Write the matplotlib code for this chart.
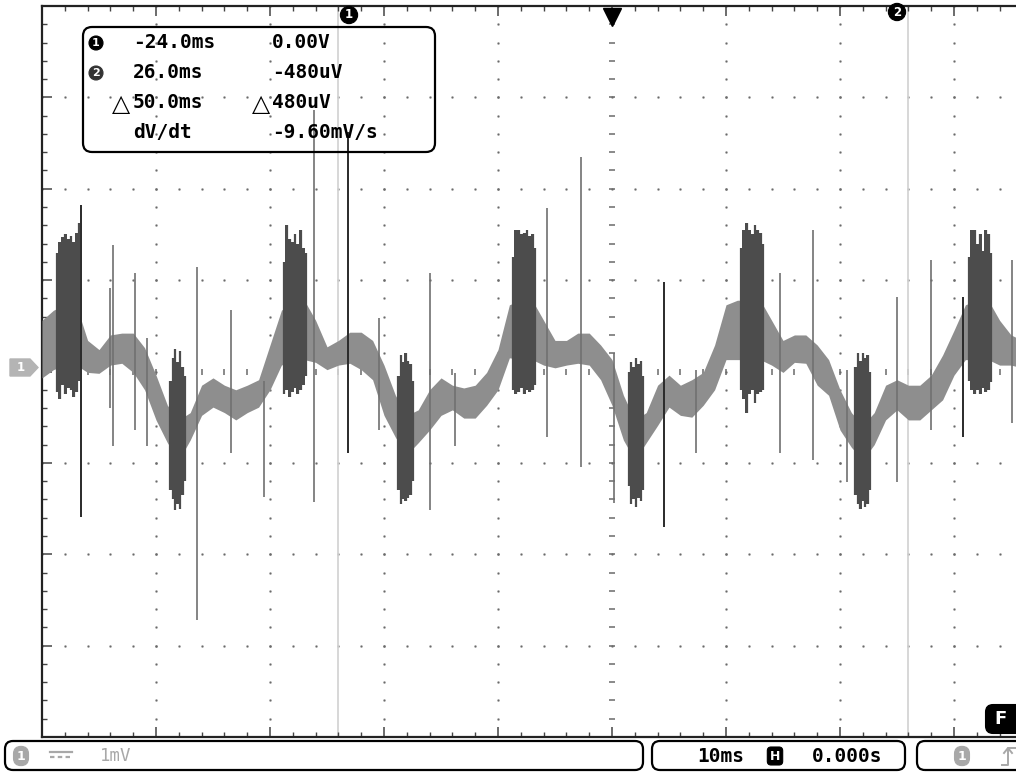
import numpy as np
import matplotlib
matplotlib.use("Agg")
import matplotlib.pyplot as plt
from matplotlib.patches import FancyBboxPatch, Polygon
from matplotlib.lines import Line2D
from matplotlib.transforms import IdentityTransform

# ---------------- data (time in ms, voltage in mV) ----------------
t_ms = list(range(-50, 37))
band_hi = [0.56, 0.67, 0.73, 0.73, 0.34, 0.24, 0.40, 0.42, 0.42, 0.26,
           -0.04, -0.37, -0.53, -0.45, -0.15, -0.07, -0.15, -0.20, -0.15, -0.09,
           0.29, 0.67, 0.78, 0.78, 0.56, 0.27, 0.34, 0.43, 0.43, 0.34,
           0.07, -0.26, -0.48, -0.42, -0.20, -0.07, -0.15, -0.18, -0.15, -0.01,
           0.24, 0.73, 0.78, 0.78, 0.56, 0.34, 0.34, 0.42, 0.42, 0.29,
           0.13, -0.26, -0.53, -0.45, -0.15, -0.04, -0.15, -0.09, -0.01, 0.29,
           0.73, 0.78, 0.78, 0.78, 0.56, 0.34, 0.40, 0.40, 0.29, 0.13,
           -0.20, -0.45, -0.59, -0.45, -0.15, -0.09, -0.15, -0.15, -0.04, 0.18,
           0.45, 0.73, 0.78, 0.78, 0.56, 0.40, 0.34]
band_lo = [-0.07, 0.02, 0.07, 0.07, -0.01, -0.02, 0.07, 0.09, -0.01, -0.20,
           -0.53, -0.78, -0.97, -0.75, -0.48, -0.39, -0.45, -0.53, -0.45, -0.39,
           -0.20, 0.07, 0.13, 0.13, 0.10, 0.02, 0.07, 0.09, 0.02, -0.09,
           -0.48, -0.72, -0.91, -0.78, -0.64, -0.48, -0.42, -0.51, -0.51, -0.37,
           -0.20, 0.15, 0.13, 0.13, 0.07, 0.04, 0.07, 0.09, 0.07, -0.09,
           -0.37, -0.75, -0.97, -0.78, -0.59, -0.39, -0.48, -0.50, -0.37, -0.20,
           0.13, 0.13, 0.13, 0.13, 0.07, -0.01, 0.10, 0.09, -0.15, -0.26,
           -0.64, -0.83, -0.97, -0.80, -0.53, -0.42, -0.53, -0.53, -0.42, -0.31,
           -0.04, 0.13, 0.13, 0.13, 0.07, 0.07, 0.04]

# positive bursts: centre time, column tops, column bottoms
up_burst_t = [-47.7, -27.8, -7.7, 12.3, 32.3]
up_burst_top = [[1.30, 1.42, 1.47, 1.50, 1.45, 1.48, 1.42, 1.52, 1.62],
                [1.20, 1.60, 1.45, 1.42, 1.50, 1.40, 1.55, 1.35, 1.30],
                [1.25, 1.55, 1.55, 1.50, 1.52, 1.55, 1.48, 1.50, 1.35],
                [1.35, 1.55, 1.62, 1.55, 1.50, 1.60, 1.55, 1.52, 1.40],
                [1.25, 1.55, 1.55, 1.40, 1.50, 1.32, 1.55, 1.50, 1.30]]
up_burst_bot = [[-0.22, -0.30, -0.15, -0.25, -0.18, -0.20, -0.28, -0.22, -0.10],
                [-0.25, -0.20, -0.28, -0.22, -0.18, -0.25, -0.20, -0.15, -0.05],
                [-0.20, -0.25, -0.22, -0.18, -0.25, -0.20, -0.22, -0.20, -0.15],
                [-0.20, -0.30, -0.45, -0.25, -0.20, -0.35, -0.25, -0.22, -0.20],
                [-0.10, -0.20, -0.25, -0.20, -0.25, -0.18, -0.22, -0.20, -0.12]]
# negative bursts
dn_burst_t = [-38.1, -18.1, 2.1, 22.0]
dn_burst_top = [[-0.10, 0.15, 0.25, 0.10, 0.22, 0.05, -0.05],
                [-0.05, 0.18, 0.10, 0.20, 0.12, 0.08, -0.10],
                [0.00, 0.10, 0.05, 0.15, 0.08, 0.12, -0.05],
                [0.05, 0.20, 0.12, 0.20, 0.15, 0.18, 0.00]]
dn_burst_bot = [[-1.30, -1.40, -1.52, -1.45, -1.50, -1.35, -1.20],
                [-1.30, -1.45, -1.40, -1.42, -1.38, -1.35, -1.20],
                [-1.25, -1.45, -1.40, -1.48, -1.38, -1.42, -1.30],
                [-1.35, -1.45, -1.50, -1.42, -1.48, -1.45, -1.30]]

# isolated spikes
spike_t = [-44.0, -43.8, -41.8, -40.8, -36.4, -33.4, -30.5, -26.1, -20.4, -16.0,
           -13.8, -5.7, -2.7, 0.2, 7.4, 14.7, 17.6, 20.6, 25.0, 28.0, 35.1]
spike_hi = [0.91, 1.38, 1.08, 0.37, 1.14, 0.67, -0.10, 2.86, 0.59, 1.08,
            -0.02, 1.79, 2.35, 0.20, 0.02, 1.08, 1.55, 0.02, 0.82, 1.22, 1.22]
spike_lo = [-0.40, -0.81, -0.64, -0.81, -2.72, -0.89, -1.37, -1.43, -0.64, -1.52,
            -0.81, -0.72, -1.04, -1.44, -0.89, -0.89, -0.97, -1.21, -1.21, -0.64, -0.56]
dark_spike_t = [-46.6, -23.2, 4.6, 30.8]
dark_spike_hi = [1.82, 2.62, 0.98, 0.82]
dark_spike_lo = [-1.59, -0.89, -1.70, -0.72]

cursor_t = [-24.0, 26.0]
readout_rows = [("-24.0ms", "0.00V"), ("26.0ms", "-480uV"),
                ("50.0ms", "480uV"), ("dV/dt", "-9.60mV/s")]
timebase_label = "10ms"
delay_label = "0.000s"
volts_label = "1mV"

# ---------------- figure ----------------
W, H = 1016, 773
fig = plt.figure(figsize=(W / 100, H / 100), dpi=100)
fig.patch.set_facecolor("white")
PX = IdentityTransform()


def fy(y):
    return H - y


# axes: 10 divisions x 114 px, 8 divisions x 91.4 px; right part off-screen
ax = fig.add_axes([42 / W, (H - 737) / H, 1140 / W, 731 / H])
ax.set_xlim(-50, 50)
ax.set_ylim(-4, 4)
ax.set_facecolor("white")
for s in ["left", "top", "bottom"]:
    ax.spines[s].set_linewidth(1.6)
    ax.spines[s].set_color("#222222")
ax.spines["right"].set_visible(False)
ax.set_xticks(np.arange(-50, 51, 10))
ax.set_xticks(np.arange(-50, 51, 2), minor=True)
ax.set_yticks(np.arange(-4, 4.01, 1))
ax.set_yticks(np.arange(-4, 4.01, 0.2), minor=True)
ax.tick_params(which="both", direction="in", top=True, bottom=True, left=True,
               right=False, labelbottom=False, labelleft=False, color="#444444")
ax.tick_params(which="major", length=7, width=1.1)
ax.tick_params(which="minor", length=3.5, width=1.0)

# grid dots
dot_c = "#6a6a6a"
ys = np.arange(-4, 4.01, 0.2)
xs = np.arange(-50, 50.01, 2)
for gx in [-40, -30, -20, -10, 10, 20, 30, 40]:
    ax.plot(np.full_like(ys, gx), ys, ls="none", marker="s", ms=1.0, mew=0.4,
            color=dot_c, zorder=1)
for gy in [-3, -2, -1, 1, 2, 3]:
    ax.plot(xs, np.full_like(xs, gy), ls="none", marker="s", ms=1.0, mew=0.4,
            color=dot_c, zorder=1)
ax.plot(np.zeros_like(ys), ys, ls="none", marker="_", ms=4.5, mew=1.1, color=dot_c, zorder=1)
ax.plot(xs, np.zeros_like(xs), ls="none", marker="|", ms=4.5, mew=1.1, color=dot_c, zorder=1)

# cursors
for ct in cursor_t:
    ax.axvline(ct, color="#d4d4d4", lw=1.3, zorder=1.5)

# waveform band
ax.fill_between(t_ms, band_lo, band_hi, color="#8e8e8e", lw=0, zorder=3)

# bursts (solid stepped blocks with jagged column edges)
burst_c = "#4c4c4c"
up_w = 2.2
for c, tops, bots in zip(up_burst_t, up_burst_top, up_burst_bot):
    n = len(tops)
    cx = c + (np.arange(n) - (n - 1) / 2) * up_w / n
    ax.fill_between(cx, bots, tops, step="mid", color=burst_c, lw=0, zorder=4)
    ax.vlines(cx, bots, tops, colors=burst_c, lw=1.6, zorder=4)
dn_w = 1.5
for c, tops, bots in zip(dn_burst_t, dn_burst_top, dn_burst_bot):
    n = len(tops)
    cx = c + (np.arange(n) - (n - 1) / 2) * dn_w / n
    ax.fill_between(cx, bots, tops, step="mid", color=burst_c, lw=0, zorder=4)
    ax.vlines(cx, bots, tops, colors=burst_c, lw=1.6, zorder=4)

# spikes
ax.vlines(spike_t, spike_lo, spike_hi, colors="#707070", lw=1.2, zorder=5)
ax.vlines(dark_spike_t, dark_spike_lo, dark_spike_hi, colors="#2a2a2a", lw=1.4, zorder=5)

# trigger position marker
ax.plot([0], [3.88], marker="v", ms=13, color="black", zorder=6, clip_on=False)

# ---------------- overlays (pixel coordinates) ----------------
mono = ["DejaVu Sans Mono", "DejaVu Sans"]


def badge(x, y, s, fc, size=8.5, style="circle,pad=0.18"):
    fig.text(x, fy(y), s, transform=PX, ha="center", va="center", color="white",
             fontsize=size, fontweight="bold", family="DejaVu Sans",
             bbox=dict(boxstyle=style, fc=fc, ec=fc, lw=0.8), zorder=10)


# cursor labels at top
badge(349, 15, "1", "black")
badge(897, 12, "2", "black")

# channel-1 ground marker
fig.patches.append(Polygon([(10, fy(359)), (30, fy(359)), (38, fy(367.5)),
                            (30, fy(376)), (10, fy(376))], closed=True,
                           transform=PX, fc="#b4b4b4", ec="#b4b4b4"))
fig.text(21, fy(367.5), "1", transform=PX, ha="center", va="center", color="white",
         fontsize=8.5, fontweight="bold")

# readout box
fig.patches.append(FancyBboxPatch((83, fy(152)), 352, 125,
                                  boxstyle="round,pad=0,rounding_size=9",
                                  transform=PX, fill=False, ec="black", lw=1.6))
row_y = [43, 73, 103, 133]
fs = 14
badge(96, row_y[0], "1", "black", size=8)
badge(96, row_y[1], "2", "#333333", size=8)
for i, (a, b) in enumerate(readout_rows):
    xa, xb = 133, 272
    fig.text(xa, fy(row_y[i]), a, transform=PX, ha="left", va="center",
             family=mono, fontweight="bold", fontsize=fs, zorder=10)
    fig.text(xb, fy(row_y[i]), b, transform=PX, ha="left", va="center",
             family=mono, fontweight="bold", fontsize=fs, zorder=10)
fig.text(112, fy(row_y[2] + 1), "△", transform=PX, ha="left", va="center",
         family="DejaVu Sans", fontweight="bold", fontsize=17, zorder=10)
fig.text(252, fy(row_y[2] + 1), "△", transform=PX, ha="left", va="center",
         family="DejaVu Sans", fontweight="bold", fontsize=17, zorder=10)

# bottom status bar
for x0, x1 in [(5, 643), (652, 905), (917, 1040)]:
    fig.patches.append(FancyBboxPatch((x0, fy(770)), x1 - x0, 29,
                                      boxstyle="round,pad=0,rounding_size=8",
                                      transform=PX, fill=False, ec="black", lw=1.6))
grey = "#a8a8a8"
badge(21, 756, "1", grey, size=9, style="round,pad=0.25,rounding_size=0.6")
fig.lines.append(Line2D([50, 72], [fy(752), fy(752)], transform=PX, color=grey, lw=1.6))
fig.lines.append(Line2D([50, 72], [fy(757), fy(757)], transform=PX, color=grey, lw=1.6,
                        dashes=(2, 1.5)))
fig.text(100, fy(756), volts_label, transform=PX, ha="left", va="center",
         family=mono, fontsize=12.5, color=grey)
fig.text(697, fy(756), timebase_label, transform=PX, ha="left", va="center",
         family=mono, fontweight="bold", fontsize=14)
badge(775, 756, "H", "black", size=9, style="round,pad=0.2,rounding_size=0.3")
fig.text(812, fy(756), delay_label, transform=PX, ha="left", va="center",
         family=mono, fontweight="bold", fontsize=14)
badge(962, 756, "1", grey, size=9, style="round,pad=0.25,rounding_size=0.6")
fig.lines.append(Line2D([1002, 1008, 1008, 1016], [fy(765), fy(765), fy(748), fy(748)],
                        transform=PX, color=grey, lw=1.4))
fig.lines.append(Line2D([1004, 1008, 1012], [fy(753), fy(748), fy(753)],
                        transform=PX, color=grey, lw=1.4))

# "F" marker
fig.patches.append(FancyBboxPatch((986, fy(733)), 50, 28,
                                  boxstyle="round,pad=0,rounding_size=7",
                                  transform=PX, fc="black", ec="black", lw=1.5))
fig.text(1001, fy(719), "F", transform=PX, ha="center", va="center", color="white",
         fontsize=13, fontweight="bold")

fig.savefig("out.png", dpi=100, facecolor="white")
